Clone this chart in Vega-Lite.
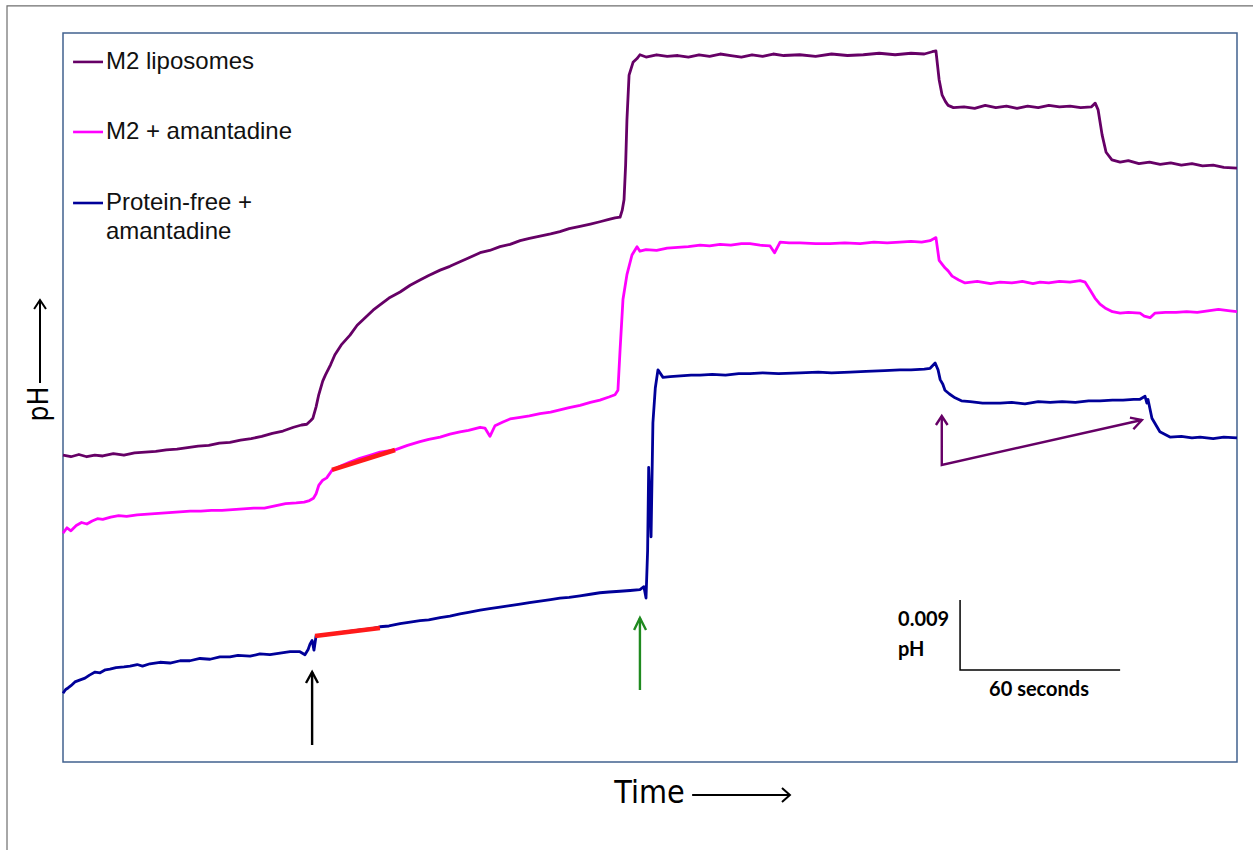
{
  "$schema": "https://vega.github.io/schema/vega-lite/v6.json",
  "width": 1174,
  "height": 729,
  "autosize": "none",
  "padding": {"left": 63, "top": 33, "right": 16, "bottom": 88},
  "background": "white",
  "config": {"view": {"stroke": "#41628f", "strokeWidth": 1.5}},
  "datasets": {
    "traces": [
      {"series":"M2 liposomes","t":0,"v":40.6},{"series":"M2 liposomes","t":3,"v":40.4},{"series":"M2 liposomes","t":6,"v":40.7},{"series":"M2 liposomes","t":9,"v":40.4},{"series":"M2 liposomes","t":12,"v":40.6},{"series":"M2 liposomes","t":15,"v":40.5},{"series":"M2 liposomes","t":19,"v":40.8},{"series":"M2 liposomes","t":23,"v":40.6},{"series":"M2 liposomes","t":27,"v":40.9},{"series":"M2 liposomes","t":31,"v":41.0},{"series":"M2 liposomes","t":35,"v":41.1},{"series":"M2 liposomes","t":39,"v":41.3},{"series":"M2 liposomes","t":43,"v":41.4},{"series":"M2 liposomes","t":47,"v":41.6},{"series":"M2 liposomes","t":51,"v":41.8},{"series":"M2 liposomes","t":55,"v":41.9},{"series":"M2 liposomes","t":59,"v":42.2},{"series":"M2 liposomes","t":63,"v":42.3},{"series":"M2 liposomes","t":67,"v":42.6},{"series":"M2 liposomes","t":71,"v":42.8},{"series":"M2 liposomes","t":75,"v":43.1},{"series":"M2 liposomes","t":79,"v":43.5},{"series":"M2 liposomes","t":83,"v":43.8},{"series":"M2 liposomes","t":87,"v":44.3},{"series":"M2 liposomes","t":90,"v":44.6},{"series":"M2 liposomes","t":92,"v":44.7},{"series":"M2 liposomes","t":93.5,"v":45.2},{"series":"M2 liposomes","t":94.3,"v":45.5},{"series":"M2 liposomes","t":95.5,"v":47.0},{"series":"M2 liposomes","t":96.5,"v":48.6},{"series":"M2 liposomes","t":98,"v":50.4},{"series":"M2 liposomes","t":99,"v":51.2},{"series":"M2 liposomes","t":101,"v":52.6},{"series":"M2 liposomes","t":102.6,"v":53.9},{"series":"M2 liposomes","t":105,"v":55.2},{"series":"M2 liposomes","t":108.3,"v":56.5},{"series":"M2 liposomes","t":111,"v":57.8},{"series":"M2 liposomes","t":114,"v":58.8},{"series":"M2 liposomes","t":117,"v":59.8},{"series":"M2 liposomes","t":119.6,"v":60.5},{"series":"M2 liposomes","t":123,"v":61.4},{"series":"M2 liposomes","t":127.2,"v":62.2},{"series":"M2 liposomes","t":131,"v":63.1},{"series":"M2 liposomes","t":134.7,"v":63.8},{"series":"M2 liposomes","t":138,"v":64.4},{"series":"M2 liposomes","t":142.3,"v":65.1},{"series":"M2 liposomes","t":146,"v":65.6},{"series":"M2 liposomes","t":149.8,"v":66.2},{"series":"M2 liposomes","t":153,"v":66.7},{"series":"M2 liposomes","t":157.4,"v":67.4},{"series":"M2 liposomes","t":161,"v":67.7},{"series":"M2 liposomes","t":164.9,"v":68.2},{"series":"M2 liposomes","t":168.7,"v":68.5},{"series":"M2 liposomes","t":172.5,"v":69.0},{"series":"M2 liposomes","t":176,"v":69.3},{"series":"M2 liposomes","t":180,"v":69.6},{"series":"M2 liposomes","t":184,"v":69.9},{"series":"M2 liposomes","t":187.5,"v":70.2},{"series":"M2 liposomes","t":191,"v":70.6},{"series":"M2 liposomes","t":195.1,"v":70.9},{"series":"M2 liposomes","t":199,"v":71.2},{"series":"M2 liposomes","t":202.6,"v":71.5},{"series":"M2 liposomes","t":206,"v":71.8},{"series":"M2 liposomes","t":208.3,"v":72.0},{"series":"M2 liposomes","t":210.2,"v":72.1},{"series":"M2 liposomes","t":211,"v":73.0},{"series":"M2 liposomes","t":211.7,"v":74.4},{"series":"M2 liposomes","t":212.3,"v":79.0},{"series":"M2 liposomes","t":212.8,"v":85.0},{"series":"M2 liposomes","t":213.6,"v":90.9},{"series":"M2 liposomes","t":215.1,"v":92.6},{"series":"M2 liposomes","t":216.6,"v":93.1},{"series":"M2 liposomes","t":217.7,"v":93.6},{"series":"M2 liposomes","t":220,"v":93.3},{"series":"M2 liposomes","t":224,"v":93.6},{"series":"M2 liposomes","t":228,"v":93.4},{"series":"M2 liposomes","t":232,"v":93.5},{"series":"M2 liposomes","t":236,"v":93.3},{"series":"M2 liposomes","t":240,"v":93.6},{"series":"M2 liposomes","t":244,"v":93.4},{"series":"M2 liposomes","t":248,"v":93.7},{"series":"M2 liposomes","t":252,"v":93.5},{"series":"M2 liposomes","t":256,"v":93.3},{"series":"M2 liposomes","t":260,"v":93.6},{"series":"M2 liposomes","t":264,"v":93.4},{"series":"M2 liposomes","t":268,"v":93.7},{"series":"M2 liposomes","t":272,"v":93.5},{"series":"M2 liposomes","t":278,"v":93.6},{"series":"M2 liposomes","t":284,"v":93.4},{"series":"M2 liposomes","t":290,"v":93.7},{"series":"M2 liposomes","t":296,"v":93.5},{"series":"M2 liposomes","t":302,"v":93.6},{"series":"M2 liposomes","t":308,"v":93.8},{"series":"M2 liposomes","t":314,"v":93.6},{"series":"M2 liposomes","t":320,"v":93.8},{"series":"M2 liposomes","t":325,"v":93.7},{"series":"M2 liposomes","t":328,"v":94.0},{"series":"M2 liposomes","t":329.4,"v":94.1},{"series":"M2 liposomes","t":330.6,"v":90.3},{"series":"M2 liposomes","t":331.7,"v":88.3},{"series":"M2 liposomes","t":333,"v":87.4},{"series":"M2 liposomes","t":334,"v":86.9},{"series":"M2 liposomes","t":336,"v":86.6},{"series":"M2 liposomes","t":340,"v":86.7},{"series":"M2 liposomes","t":344,"v":86.5},{"series":"M2 liposomes","t":348,"v":86.9},{"series":"M2 liposomes","t":352,"v":86.6},{"series":"M2 liposomes","t":356,"v":86.8},{"series":"M2 liposomes","t":360,"v":86.5},{"series":"M2 liposomes","t":364,"v":86.8},{"series":"M2 liposomes","t":368,"v":86.6},{"series":"M2 liposomes","t":372,"v":86.9},{"series":"M2 liposomes","t":376,"v":86.7},{"series":"M2 liposomes","t":380,"v":86.8},{"series":"M2 liposomes","t":384,"v":86.6},{"series":"M2 liposomes","t":388,"v":86.7},{"series":"M2 liposomes","t":389.5,"v":87.2},{"series":"M2 liposomes","t":390.6,"v":86.3},{"series":"M2 liposomes","t":392.1,"v":83.0},{"series":"M2 liposomes","t":393.6,"v":80.7},{"series":"M2 liposomes","t":395.8,"v":79.7},{"series":"M2 liposomes","t":398.9,"v":79.4},{"series":"M2 liposomes","t":402,"v":79.6},{"series":"M2 liposomes","t":406,"v":79.2},{"series":"M2 liposomes","t":410,"v":79.4},{"series":"M2 liposomes","t":414,"v":79.1},{"series":"M2 liposomes","t":418,"v":79.3},{"series":"M2 liposomes","t":422,"v":79.0},{"series":"M2 liposomes","t":426,"v":79.2},{"series":"M2 liposomes","t":430,"v":78.9},{"series":"M2 liposomes","t":434,"v":79.0},{"series":"M2 liposomes","t":438,"v":78.7},{"series":"M2 liposomes","t":443,"v":78.6},

      {"series":"M2 + amantadine","t":0,"v":30.3},{"series":"M2 + amantadine","t":1.5,"v":31.0},{"series":"M2 + amantadine","t":3,"v":30.6},{"series":"M2 + amantadine","t":5,"v":31.3},{"series":"M2 + amantadine","t":7,"v":31.7},{"series":"M2 + amantadine","t":9,"v":31.5},{"series":"M2 + amantadine","t":11,"v":31.9},{"series":"M2 + amantadine","t":13,"v":32.2},{"series":"M2 + amantadine","t":15,"v":32.1},{"series":"M2 + amantadine","t":18,"v":32.4},{"series":"M2 + amantadine","t":21,"v":32.6},{"series":"M2 + amantadine","t":24,"v":32.5},{"series":"M2 + amantadine","t":28,"v":32.7},{"series":"M2 + amantadine","t":32,"v":32.8},{"series":"M2 + amantadine","t":36,"v":32.9},{"series":"M2 + amantadine","t":40,"v":33.0},{"series":"M2 + amantadine","t":44,"v":33.1},{"series":"M2 + amantadine","t":48,"v":33.2},{"series":"M2 + amantadine","t":52,"v":33.2},{"series":"M2 + amantadine","t":56,"v":33.3},{"series":"M2 + amantadine","t":60,"v":33.3},{"series":"M2 + amantadine","t":64,"v":33.4},{"series":"M2 + amantadine","t":68,"v":33.5},{"series":"M2 + amantadine","t":72,"v":33.6},{"series":"M2 + amantadine","t":76,"v":33.6},{"series":"M2 + amantadine","t":80,"v":33.9},{"series":"M2 + amantadine","t":84,"v":34.2},{"series":"M2 + amantadine","t":88,"v":34.3},{"series":"M2 + amantadine","t":91,"v":34.4},{"series":"M2 + amantadine","t":93,"v":34.6},{"series":"M2 + amantadine","t":94.5,"v":34.9},{"series":"M2 + amantadine","t":95.5,"v":35.5},{"series":"M2 + amantadine","t":96.5,"v":36.6},{"series":"M2 + amantadine","t":98,"v":37.3},{"series":"M2 + amantadine","t":99.5,"v":37.6},{"series":"M2 + amantadine","t":101.5,"v":38.6},{"series":"M2 + amantadine","t":105,"v":39.2},{"series":"M2 + amantadine","t":108.3,"v":39.7},{"series":"M2 + amantadine","t":112,"v":40.2},{"series":"M2 + amantadine","t":115.8,"v":40.6},{"series":"M2 + amantadine","t":119.6,"v":41.0},{"series":"M2 + amantadine","t":125.3,"v":41.3},{"series":"M2 + amantadine","t":130,"v":41.9},{"series":"M2 + amantadine","t":134.7,"v":42.4},{"series":"M2 + amantadine","t":138,"v":42.7},{"series":"M2 + amantadine","t":142.3,"v":43.0},{"series":"M2 + amantadine","t":146,"v":43.4},{"series":"M2 + amantadine","t":149.8,"v":43.7},{"series":"M2 + amantadine","t":153,"v":43.9},{"series":"M2 + amantadine","t":157.4,"v":44.3},{"series":"M2 + amantadine","t":159.2,"v":44.2},{"series":"M2 + amantadine","t":161.1,"v":43.1},{"series":"M2 + amantadine","t":163,"v":44.5},{"series":"M2 + amantadine","t":166,"v":45.0},{"series":"M2 + amantadine","t":168.7,"v":45.4},{"series":"M2 + amantadine","t":172.5,"v":45.6},{"series":"M2 + amantadine","t":176,"v":45.8},{"series":"M2 + amantadine","t":180,"v":46.1},{"series":"M2 + amantadine","t":184,"v":46.3},{"series":"M2 + amantadine","t":187.5,"v":46.6},{"series":"M2 + amantadine","t":191,"v":46.9},{"series":"M2 + amantadine","t":195.1,"v":47.2},{"series":"M2 + amantadine","t":199,"v":47.6},{"series":"M2 + amantadine","t":202.6,"v":47.9},{"series":"M2 + amantadine","t":206,"v":48.3},{"series":"M2 + amantadine","t":208.3,"v":48.6},{"series":"M2 + amantadine","t":209.4,"v":49.2},{"series":"M2 + amantadine","t":210.2,"v":54.5},{"series":"M2 + amantadine","t":211.3,"v":61.2},{"series":"M2 + amantadine","t":212.8,"v":64.5},{"series":"M2 + amantadine","t":214.7,"v":67.1},{"series":"M2 + amantadine","t":216.6,"v":68.2},{"series":"M2 + amantadine","t":217.7,"v":67.6},{"series":"M2 + amantadine","t":220,"v":67.8},{"series":"M2 + amantadine","t":224,"v":67.7},{"series":"M2 + amantadine","t":228,"v":68.0},{"series":"M2 + amantadine","t":232,"v":68.1},{"series":"M2 + amantadine","t":236,"v":68.2},{"series":"M2 + amantadine","t":240.4,"v":68.4},{"series":"M2 + amantadine","t":244,"v":68.3},{"series":"M2 + amantadine","t":247.9,"v":68.5},{"series":"M2 + amantadine","t":252,"v":68.4},{"series":"M2 + amantadine","t":256,"v":68.6},{"series":"M2 + amantadine","t":259.2,"v":68.6},{"series":"M2 + amantadine","t":263,"v":68.4},{"series":"M2 + amantadine","t":266.8,"v":68.3},{"series":"M2 + amantadine","t":268.5,"v":67.4},{"series":"M2 + amantadine","t":270.6,"v":68.8},{"series":"M2 + amantadine","t":274,"v":68.7},{"series":"M2 + amantadine","t":278.1,"v":68.7},{"series":"M2 + amantadine","t":284,"v":68.6},{"series":"M2 + amantadine","t":289.4,"v":68.6},{"series":"M2 + amantadine","t":295,"v":68.7},{"series":"M2 + amantadine","t":300.8,"v":68.6},{"series":"M2 + amantadine","t":306,"v":68.8},{"series":"M2 + amantadine","t":311,"v":68.7},{"series":"M2 + amantadine","t":315.8,"v":68.8},{"series":"M2 + amantadine","t":320,"v":68.9},{"series":"M2 + amantadine","t":324,"v":68.8},{"series":"M2 + amantadine","t":327.2,"v":69.0},{"series":"M2 + amantadine","t":329.4,"v":69.4},{"series":"M2 + amantadine","t":330.6,"v":66.4},{"series":"M2 + amantadine","t":332.8,"v":65.4},{"series":"M2 + amantadine","t":334,"v":65.0},{"series":"M2 + amantadine","t":335.5,"v":64.3},{"series":"M2 + amantadine","t":338,"v":63.8},{"series":"M2 + amantadine","t":340.4,"v":63.4},{"series":"M2 + amantadine","t":345,"v":63.6},{"series":"M2 + amantadine","t":350,"v":63.3},{"series":"M2 + amantadine","t":353.6,"v":63.5},{"series":"M2 + amantadine","t":358,"v":63.4},{"series":"M2 + amantadine","t":362,"v":63.6},{"series":"M2 + amantadine","t":366,"v":63.3},{"series":"M2 + amantadine","t":368.7,"v":63.5},{"series":"M2 + amantadine","t":372,"v":63.4},{"series":"M2 + amantadine","t":376,"v":63.6},{"series":"M2 + amantadine","t":380,"v":63.5},{"series":"M2 + amantadine","t":383.8,"v":63.7},{"series":"M2 + amantadine","t":385.7,"v":63.5},{"series":"M2 + amantadine","t":387.5,"v":62.5},{"series":"M2 + amantadine","t":389.4,"v":61.4},{"series":"M2 + amantadine","t":391.3,"v":60.6},{"series":"M2 + amantadine","t":393.2,"v":60.1},{"series":"M2 + amantadine","t":396,"v":59.6},{"series":"M2 + amantadine","t":398.9,"v":59.4},{"series":"M2 + amantadine","t":402,"v":59.5},{"series":"M2 + amantadine","t":406.4,"v":59.4},{"series":"M2 + amantadine","t":408,"v":59.0},{"series":"M2 + amantadine","t":410.2,"v":58.8},{"series":"M2 + amantadine","t":412,"v":59.4},{"series":"M2 + amantadine","t":416,"v":59.5},{"series":"M2 + amantadine","t":420,"v":59.5},{"series":"M2 + amantadine","t":424,"v":59.6},{"series":"M2 + amantadine","t":428,"v":59.5},{"series":"M2 + amantadine","t":432,"v":59.7},{"series":"M2 + amantadine","t":436,"v":59.9},{"series":"M2 + amantadine","t":440.4,"v":59.7},{"series":"M2 + amantadine","t":443,"v":59.6},

      {"series":"Protein-free + amantadine","t":0,"v":9.1},{"series":"Protein-free + amantadine","t":1,"v":9.6},{"series":"Protein-free + amantadine","t":1.9,"v":9.8},{"series":"Protein-free + amantadine","t":3,"v":10.1},{"series":"Protein-free + amantadine","t":4.5,"v":10.6},{"series":"Protein-free + amantadine","t":6,"v":10.8},{"series":"Protein-free + amantadine","t":8.3,"v":11.1},{"series":"Protein-free + amantadine","t":10,"v":11.5},{"series":"Protein-free + amantadine","t":12.1,"v":11.9},{"series":"Protein-free + amantadine","t":14,"v":11.8},{"series":"Protein-free + amantadine","t":16,"v":12.2},{"series":"Protein-free + amantadine","t":17.7,"v":12.3},{"series":"Protein-free + amantadine","t":20,"v":12.5},{"series":"Protein-free + amantadine","t":23,"v":12.6},{"series":"Protein-free + amantadine","t":25.3,"v":12.7},{"series":"Protein-free + amantadine","t":28,"v":12.9},{"series":"Protein-free + amantadine","t":30,"v":12.7},{"series":"Protein-free + amantadine","t":32.8,"v":13.0},{"series":"Protein-free + amantadine","t":36.6,"v":13.2},{"series":"Protein-free + amantadine","t":40.4,"v":13.1},{"series":"Protein-free + amantadine","t":44.2,"v":13.4},{"series":"Protein-free + amantadine","t":47.9,"v":13.4},{"series":"Protein-free + amantadine","t":51.7,"v":13.7},{"series":"Protein-free + amantadine","t":55.5,"v":13.6},{"series":"Protein-free + amantadine","t":59.2,"v":13.9},{"series":"Protein-free + amantadine","t":63,"v":13.9},{"series":"Protein-free + amantadine","t":66,"v":14.1},{"series":"Protein-free + amantadine","t":70.6,"v":14.0},{"series":"Protein-free + amantadine","t":74.3,"v":14.3},{"series":"Protein-free + amantadine","t":78.1,"v":14.2},{"series":"Protein-free + amantadine","t":81.9,"v":14.4},{"series":"Protein-free + amantadine","t":85.7,"v":14.6},{"series":"Protein-free + amantadine","t":89.4,"v":14.6},{"series":"Protein-free + amantadine","t":91.3,"v":14.2},{"series":"Protein-free + amantadine","t":92.5,"v":14.9},{"series":"Protein-free + amantadine","t":93.2,"v":15.6},{"series":"Protein-free + amantadine","t":94,"v":16.1},{"series":"Protein-free + amantadine","t":94.7,"v":14.8},{"series":"Protein-free + amantadine","t":95.5,"v":16.7},{"series":"Protein-free + amantadine","t":98,"v":16.8},{"series":"Protein-free + amantadine","t":100.8,"v":16.9},{"series":"Protein-free + amantadine","t":104,"v":17.1},{"series":"Protein-free + amantadine","t":108,"v":17.3},{"series":"Protein-free + amantadine","t":112.1,"v":17.5},{"series":"Protein-free + amantadine","t":115.8,"v":17.6},{"series":"Protein-free + amantadine","t":119.6,"v":17.9},{"series":"Protein-free + amantadine","t":123,"v":18.0},{"series":"Protein-free + amantadine","t":127.2,"v":18.3},{"series":"Protein-free + amantadine","t":131,"v":18.5},{"series":"Protein-free + amantadine","t":134.7,"v":18.7},{"series":"Protein-free + amantadine","t":138,"v":18.8},{"series":"Protein-free + amantadine","t":142.3,"v":19.1},{"series":"Protein-free + amantadine","t":146,"v":19.3},{"series":"Protein-free + amantadine","t":149.8,"v":19.6},{"series":"Protein-free + amantadine","t":153,"v":19.8},{"series":"Protein-free + amantadine","t":157.4,"v":20.1},{"series":"Protein-free + amantadine","t":161,"v":20.3},{"series":"Protein-free + amantadine","t":164.9,"v":20.5},{"series":"Protein-free + amantadine","t":168.7,"v":20.7},{"series":"Protein-free + amantadine","t":172.5,"v":20.9},{"series":"Protein-free + amantadine","t":176,"v":21.1},{"series":"Protein-free + amantadine","t":180,"v":21.3},{"series":"Protein-free + amantadine","t":184,"v":21.5},{"series":"Protein-free + amantadine","t":187.5,"v":21.7},{"series":"Protein-free + amantadine","t":191,"v":21.8},{"series":"Protein-free + amantadine","t":195.1,"v":22.0},{"series":"Protein-free + amantadine","t":199,"v":22.2},{"series":"Protein-free + amantadine","t":202.6,"v":22.4},{"series":"Protein-free + amantadine","t":206,"v":22.5},{"series":"Protein-free + amantadine","t":210.2,"v":22.6},{"series":"Protein-free + amantadine","t":214,"v":22.7},{"series":"Protein-free + amantadine","t":217.7,"v":22.8},{"series":"Protein-free + amantadine","t":219.2,"v":23.2},{"series":"Protein-free + amantadine","t":220.0,"v":21.7},{"series":"Protein-free + amantadine","t":220.6,"v":28.0},{"series":"Protein-free + amantadine","t":221.0,"v":39.0},{"series":"Protein-free + amantadine","t":221.9,"v":29.8},{"series":"Protein-free + amantadine","t":222.6,"v":44.9},{"series":"Protein-free + amantadine","t":223.5,"v":49.5},{"series":"Protein-free + amantadine","t":224.5,"v":51.9},{"series":"Protein-free + amantadine","t":226.4,"v":50.9},{"series":"Protein-free + amantadine","t":229.1,"v":51.0},{"series":"Protein-free + amantadine","t":233,"v":51.1},{"series":"Protein-free + amantadine","t":237,"v":51.2},{"series":"Protein-free + amantadine","t":240.4,"v":51.2},{"series":"Protein-free + amantadine","t":245,"v":51.3},{"series":"Protein-free + amantadine","t":250,"v":51.2},{"series":"Protein-free + amantadine","t":255,"v":51.4},{"series":"Protein-free + amantadine","t":259.2,"v":51.4},{"series":"Protein-free + amantadine","t":264,"v":51.5},{"series":"Protein-free + amantadine","t":270,"v":51.4},{"series":"Protein-free + amantadine","t":278.1,"v":51.5},{"series":"Protein-free + amantadine","t":285,"v":51.6},{"series":"Protein-free + amantadine","t":290,"v":51.5},{"series":"Protein-free + amantadine","t":297,"v":51.6},{"series":"Protein-free + amantadine","t":303,"v":51.7},{"series":"Protein-free + amantadine","t":310,"v":51.8},{"series":"Protein-free + amantadine","t":315.8,"v":51.9},{"series":"Protein-free + amantadine","t":320,"v":51.9},{"series":"Protein-free + amantadine","t":325,"v":52.0},{"series":"Protein-free + amantadine","t":327.2,"v":52.1},{"series":"Protein-free + amantadine","t":329.1,"v":52.8},{"series":"Protein-free + amantadine","t":330.2,"v":51.9},{"series":"Protein-free + amantadine","t":331,"v":50.6},{"series":"Protein-free + amantadine","t":332,"v":50.0},{"series":"Protein-free + amantadine","t":332.8,"v":49.2},{"series":"Protein-free + amantadine","t":334.5,"v":48.7},{"series":"Protein-free + amantadine","t":336.6,"v":48.2},{"series":"Protein-free + amantadine","t":339,"v":47.8},{"series":"Protein-free + amantadine","t":342.3,"v":47.7},{"series":"Protein-free + amantadine","t":347,"v":47.5},{"series":"Protein-free + amantadine","t":353.6,"v":47.5},{"series":"Protein-free + amantadine","t":358,"v":47.6},{"series":"Protein-free + amantadine","t":363,"v":47.4},{"series":"Protein-free + amantadine","t":368,"v":47.7},{"series":"Protein-free + amantadine","t":372.5,"v":47.6},{"series":"Protein-free + amantadine","t":377,"v":47.7},{"series":"Protein-free + amantadine","t":382,"v":47.6},{"series":"Protein-free + amantadine","t":387,"v":47.8},{"series":"Protein-free + amantadine","t":391.3,"v":47.8},{"series":"Protein-free + amantadine","t":396,"v":47.9},{"series":"Protein-free + amantadine","t":400,"v":47.9},{"series":"Protein-free + amantadine","t":404,"v":48.0},{"series":"Protein-free + amantadine","t":406.4,"v":48.0},{"series":"Protein-free + amantadine","t":408.3,"v":48.4},{"series":"Protein-free + amantadine","t":409,"v":47.5},{"series":"Protein-free + amantadine","t":409.4,"v":48.0},{"series":"Protein-free + amantadine","t":410.9,"v":45.5},{"series":"Protein-free + amantadine","t":413.9,"v":43.7},{"series":"Protein-free + amantadine","t":417.7,"v":43.0},{"series":"Protein-free + amantadine","t":422,"v":43.1},{"series":"Protein-free + amantadine","t":426,"v":42.9},{"series":"Protein-free + amantadine","t":429.1,"v":43.0},{"series":"Protein-free + amantadine","t":434,"v":42.8},{"series":"Protein-free + amantadine","t":438,"v":43.0},{"series":"Protein-free + amantadine","t":443,"v":42.9}
    ],
    "legendLines": [
      {"series":"M2 liposomes","t":3.8,"v":92.65},{"series":"M2 liposomes","t":15.1,"v":92.65},
      {"series":"M2 + amantadine","t":3.8,"v":83.38},{"series":"M2 + amantadine","t":15.1,"v":83.38},
      {"series":"Protein-free + amantadine","t":3.8,"v":73.98},{"series":"Protein-free + amantadine","t":15.1,"v":73.98}
    ],
    "legendText": [
      {"label":"M2 liposomes","t":16.2,"v":92.65},
      {"label":"M2 + amantadine","t":16.2,"v":83.38},
      {"label":"Protein-free +","t":16.2,"v":73.98},
      {"label":"amantadine","t":16.2,"v":70.15}
    ],
    "fits": [
      {"seg":"M2 + amantadine","t":101.5,"v":38.65},{"seg":"M2 + amantadine","t":125.3,"v":41.29},
      {"seg":"Protein-free","t":95.1,"v":16.68},{"seg":"Protein-free","t":119.6,"v":17.73}
    ],
    "decor": [
      {"g":"frame","p":"a","i":0,"t":-21.13,"v":-11.65},{"g":"frame","p":"a","i":1,"t":-21.13,"v":100.06},{"g":"frame","p":"a","i":2,"t":449.1,"v":100.06},
      {"g":"black","p":"shaft","i":0,"t":94.0,"v":2.25},{"g":"black","p":"shaft","i":1,"t":94.0,"v":11.91},
      {"g":"black","p":"head","i":0,"t":91.7,"v":10.46},{"g":"black","p":"head","i":1,"t":94.0,"v":11.91},{"g":"black","p":"head","i":2,"t":96.2,"v":10.46},
      {"g":"green","p":"shaft","i":0,"t":217.7,"v":9.53},{"g":"green","p":"shaft","i":1,"t":217.7,"v":19.06},
      {"g":"green","p":"head","i":0,"t":215.5,"v":17.47},{"g":"green","p":"head","i":1,"t":217.7,"v":19.06},{"g":"green","p":"head","i":2,"t":220.0,"v":17.47},
      {"g":"purple","p":"head1","i":0,"t":329.4,"v":44.6},{"g":"purple","p":"head1","i":1,"t":331.6,"v":45.79},{"g":"purple","p":"head1","i":2,"t":333.8,"v":44.6},
      {"g":"purple","p":"shaft","i":0,"t":331.6,"v":45.79},{"g":"purple","p":"shaft","i":1,"t":331.6,"v":39.31},{"g":"purple","p":"shaft","i":2,"t":407.1,"v":45.26},
      {"g":"purple","p":"head2","i":0,"t":402.6,"v":45.57},{"g":"purple","p":"head2","i":1,"t":407.1,"v":45.26},{"g":"purple","p":"head2","i":2,"t":403.9,"v":44.03},
      {"g":"time","p":"tshaft","i":0,"t":237.4,"v":-4.37},{"g":"time","p":"tshaft","i":1,"t":274.3,"v":-4.37},
      {"g":"time","p":"thead","i":0,"t":271.3,"v":-3.44},{"g":"time","p":"thead","i":1,"t":274.3,"v":-4.37},{"g":"time","p":"thead","i":2,"t":271.3,"v":-5.29},
      {"g":"ph","p":"pshaft","i":0,"t":-8.68,"v":50.16},{"g":"ph","p":"pshaft","i":1,"t":-8.68,"v":61.15},
      {"g":"ph","p":"phead","i":0,"t":-10.9,"v":59.95},{"g":"ph","p":"phead","i":1,"t":-8.68,"v":61.15},{"g":"ph","p":"phead","i":2,"t":-6.42,"v":59.95},
      {"g":"bar","p":"a","i":0,"t":338.5,"v":21.44},{"g":"bar","p":"a","i":1,"t":338.5,"v":12.18},{"g":"bar","p":"a","i":2,"t":398.9,"v":12.18}
    ],
    "barText": [
      {"label":"0.009","t":315.1,"v":18.79},
      {"label":"pH","t":315.1,"v":14.82}
    ],
    "barText2": [
      {"label":"60 seconds","t":368.3,"v":9.53}
    ]
  },
  "encoding": {
    "x": {"field":"t","type":"quantitative","scale":{"domain":[0,443],"nice":false,"zero":false},"axis":null},
    "y": {"field":"v","type":"quantitative","scale":{"domain":[0,96.48],"nice":false,"zero":false},"axis":null}
  },
  "layer": [
    {"data":{"name":"decor"},"transform":[{"filter":"datum.g === 'frame'"}],"mark":{"type":"line","color":"#6e6e6e","strokeWidth":1.2},"encoding":{"detail":{"field":"p"},"order":{"field":"i","type":"quantitative"}}},
    {"data":{"name":"traces"},"mark":{"type":"line","strokeWidth":2.8,"strokeJoin":"round"},
     "encoding":{"color":{"field":"series","type":"nominal","scale":{"domain":["M2 liposomes","M2 + amantadine","Protein-free + amantadine"],"range":["#660066","#ff00ff","#000099"]},"legend":null}}},
    {"data":{"name":"legendLines"},"mark":{"type":"line","strokeWidth":2.6},"encoding":{"color":{"field":"series","type":"nominal","legend":null}}},
    {"data":{"name":"legendText"},"mark":{"type":"text","align":"left","baseline":"middle","font":"Liberation Sans","fontSize":24,"color":"#111111"},"encoding":{"text":{"field":"label"}}},
    {"data":{"name":"fits"},"mark":{"type":"line","color":"#ff1a1a","strokeWidth":4.5},"encoding":{"detail":{"field":"seg"}}},
    {"data":{"name":"decor"},"transform":[{"filter":"datum.g === 'black'"}],"mark":{"type":"line","color":"#000000","strokeWidth":2.4},"encoding":{"detail":{"field":"p"},"order":{"field":"i","type":"quantitative"}}},
    {"data":{"name":"decor"},"transform":[{"filter":"datum.g === 'green'"}],"mark":{"type":"line","color":"#1f8a1f","strokeWidth":2.4},"encoding":{"detail":{"field":"p"},"order":{"field":"i","type":"quantitative"}}},
    {"data":{"name":"decor"},"transform":[{"filter":"datum.g === 'purple'"}],"mark":{"type":"line","color":"#660066","strokeWidth":2.4},"encoding":{"detail":{"field":"p"},"order":{"field":"i","type":"quantitative"}}},
    {"data":{"name":"decor"},"transform":[{"filter":"datum.g === 'time' || datum.g === 'ph'"}],"mark":{"type":"line","color":"#000000","strokeWidth":2},"encoding":{"detail":{"field":"p"},"order":{"field":"i","type":"quantitative"}}},
    {"data":{"name":"decor"},"transform":[{"filter":"datum.g === 'bar'"}],"mark":{"type":"line","color":"#000000","strokeWidth":1.5},"encoding":{"order":{"field":"i","type":"quantitative"}}},
    {"data":{"name":"barText"},"mark":{"type":"text","align":"left","baseline":"middle","font":"Lato","fontWeight":"bold","fontSize":20,"color":"#000000"},"encoding":{"text":{"field":"label"}}},
    {"data":{"name":"barText2"},"mark":{"type":"text","align":"center","baseline":"middle","font":"Lato","fontWeight":"bold","fontSize":20,"color":"#000000"},"encoding":{"text":{"field":"label"}}},
    {"data":{"values":[{"label":"Time","t":221.3,"v":-4.1}]},"mark":{"type":"text","align":"center","baseline":"middle","font":"DejaVu Sans Condensed","fontSize":32,"color":"#000000"},"encoding":{"text":{"field":"label"}}},
    {"data":{"values":[{"label":"pH","t":-8.68,"v":47.38}]},"mark":{"type":"text","align":"center","baseline":"middle","angle":270,"font":"DejaVu Sans Condensed","fontSize":28,"color":"#000000"},"encoding":{"text":{"field":"label"}}}
  ]
}
